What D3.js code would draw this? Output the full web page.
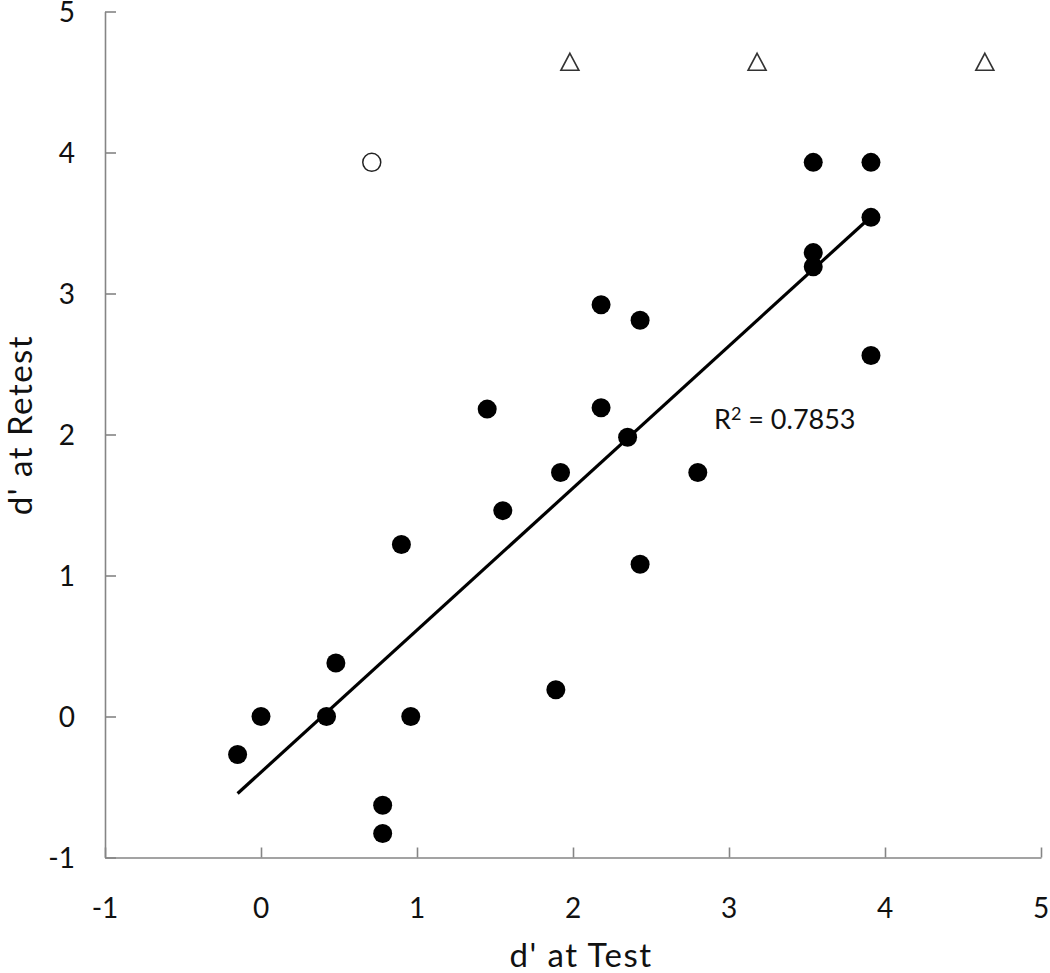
<!DOCTYPE html>
<html>
<head>
<meta charset="utf-8">
<script src="https://cdn.jsdelivr.net/npm/d3@7"></script>
<style>
  body { margin: 0; background: #fff; }
  text { font-family: Lato, "Open Sans", sans-serif; fill: #111; }
</style>
</head>
<body>
<div id="chart"></div>
<script>
// filled circles: d' at Test vs d' at Retest
var testVals   = [-0.15, 0, 0.48, 0.42, 0.96, 0.78, 0.78, 0.90, 1.45, 1.55, 1.89, 1.92,
                  2.18, 2.18, 2.43, 2.35, 2.43, 2.80, 3.54, 3.54, 3.54, 3.91, 3.91, 3.91];
var retestVals = [-0.27, 0, 0.38, 0, 0, -0.63, -0.83, 1.22, 2.18, 1.46, 0.19, 1.73,
                  2.92, 2.19, 2.81, 1.98, 1.08, 1.73, 3.93, 3.29, 3.19, 3.93, 3.54, 2.56];
// open circle
var openTest = [0.71];
var openRetest = [3.93];
// open triangles
var triTest = [1.98, 3.18, 4.64];
var triRetest = [4.64, 4.64, 4.64];

var xTicks = [-1, 0, 1, 2, 3, 4, 5];
var yTicks = [-1, 0, 1, 2, 3, 4, 5];

var width = 1050, height = 973;
var margin = {top: 11.5, right: 9, bottom: 115.5, left: 105};

var x = d3.scaleLinear().domain([-1, 5]).range([margin.left, width - margin.right]);
var y = d3.scaleLinear().domain([-1, 5]).range([height - margin.bottom, margin.top]);

var svg = d3.select("#chart").append("svg")
    .attr("width", width)
    .attr("height", height);

// axes: ticks point inward, labels placed separately
var xAxis = svg.append("g")
    .attr("transform", "translate(0," + y(-1) + ")")
    .call(d3.axisBottom(x).tickValues(xTicks).tickSize(-10).tickSizeOuter(0).tickFormat(""));
var yAxis = svg.append("g")
    .attr("transform", "translate(" + x(-1) + ",0)")
    .call(d3.axisLeft(y).tickValues(yTicks).tickSize(-11).tickSizeOuter(0).tickFormat(""));

[xAxis, yAxis].forEach(function(g) {
    g.selectAll("path, line").attr("stroke", "#858585").attr("stroke-width", 1.6);
});

svg.selectAll(".xlab").data(xTicks).enter().append("text")
    .attr("x", function(d) { return x(d); })
    .attr("y", 918)
    .attr("text-anchor", "middle")
    .style("font-size", "28px")
    .text(function(d) { return d; });

svg.selectAll(".ylab").data(yTicks).enter().append("text")
    .attr("x", 75)
    .attr("y", function(d) { return y(d) + 10; })
    .attr("text-anchor", "end")
    .style("font-size", "28px")
    .text(function(d) { return d; });

svg.append("text")
    .attr("x", 581)
    .attr("y", 967)
    .attr("text-anchor", "middle")
    .style("font-size", "33px")
    .style("letter-spacing", "1.5px")
    .text("d' at Test");

svg.append("text")
    .attr("transform", "translate(32,425) rotate(-90)")
    .attr("text-anchor", "middle")
    .style("font-size", "33px")
    .style("letter-spacing", "1.5px")
    .text("d' at Retest");

// least squares trend line over the filled points
var pts = testVals.map(function(v, i) { return {x: v, y: retestVals[i]}; });
var mx = d3.mean(pts, function(d) { return d.x; });
var my = d3.mean(pts, function(d) { return d.y; });
var sxy = d3.sum(pts, function(d) { return (d.x - mx) * (d.y - my); });
var sxx = d3.sum(pts, function(d) { return (d.x - mx) * (d.x - mx); });
var slope = sxy / sxx, intercept = my - slope * mx;
var ext = d3.extent(pts, function(d) { return d.x; });

svg.append("line")
    .attr("x1", x(ext[0])).attr("y1", y(slope * ext[0] + intercept))
    .attr("x2", x(ext[1])).attr("y2", y(slope * ext[1] + intercept))
    .attr("stroke", "#000")
    .attr("stroke-width", 3.2);

svg.selectAll(".dot").data(pts).enter().append("circle")
    .attr("cx", function(d) { return x(d.x); })
    .attr("cy", function(d) { return y(d.y); })
    .attr("r", 9.5)
    .attr("fill", "#000");

svg.selectAll(".open").data(openTest).enter().append("circle")
    .attr("cx", function(d) { return x(d); })
    .attr("cy", function(d, i) { return y(openRetest[i]); })
    .attr("r", 9)
    .attr("fill", "#fff")
    .attr("stroke", "#222")
    .attr("stroke-width", 1.5);

svg.selectAll(".tri").data(triTest).enter().append("path")
    .attr("transform", function(d, i) { return "translate(" + x(d) + "," + y(triRetest[i]) + ")"; })
    .attr("d", "M0,-9 L9,8 L-9,8 Z")
    .attr("fill", "#fff")
    .attr("stroke", "#333")
    .attr("stroke-width", 1.6);

var r2 = svg.append("text")
    .attr("x", 714)
    .attr("y", 429)
    .style("font-size", "27px");
r2.append("tspan").text("R");
r2.append("tspan").attr("dy", -9).style("font-size", "18px").text("2");
r2.append("tspan").attr("dy", 9).text(" = 0.7853");
</script>
</body>
</html>
